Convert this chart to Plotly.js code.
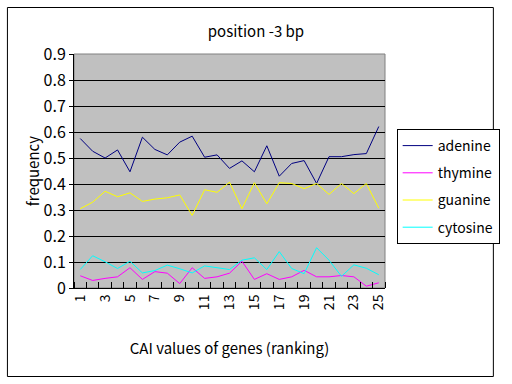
<!DOCTYPE html>
<html>
<head>
<meta charset="utf-8">
<script src="https://cdn.plot.ly/plotly-3.0.1.min.js"></script>
<style>html,body{margin:0;padding:0;background:#fff;}#chart{width:512px;height:384px;}</style>
</head>
<body>
<div id="chart"></div>
<script>
var ranks = [1,2,3,4,5,6,7,8,9,10,11,12,13,14,15,16,17,18,19,20,21,22,23,24,25];
var tickLabels = ["1","3","5","7","9","11","13","15","17","19","21","23","25"];
var tickPositions = [1,3,5,7,9,11,13,15,17,19,21,23,25];
var adenine  = [0.575,0.526,0.500,0.531,0.447,0.580,0.533,0.512,0.561,0.584,0.503,0.512,0.460,0.489,0.447,0.547,0.430,0.479,0.490,0.402,0.505,0.505,0.513,0.517,0.621];
var thymine  = [0.047,0.029,0.037,0.043,0.078,0.033,0.063,0.057,0.017,0.078,0.037,0.043,0.057,0.103,0.033,0.055,0.033,0.043,0.068,0.043,0.043,0.048,0.043,0.007,0.020];
var guanine  = [0.305,0.330,0.372,0.351,0.366,0.333,0.342,0.347,0.358,0.279,0.378,0.368,0.407,0.305,0.405,0.324,0.405,0.402,0.382,0.402,0.360,0.402,0.363,0.402,0.307];
var cytosine = [0.071,0.124,0.101,0.075,0.103,0.058,0.067,0.088,0.074,0.058,0.085,0.078,0.071,0.107,0.116,0.071,0.140,0.075,0.055,0.155,0.107,0.045,0.089,0.076,0.051];

var FONT = "'Noto Sans CJK JP', 'DejaVu Sans', sans-serif";
function tr(name, y, color) {
  return {x: ranks, y: y, name: name, legendgroup: name, type: 'scatter', mode: 'lines',
          line: {color: color, width: 1}};
}
var data = [
  tr('adenine', adenine, '#000080'),
  tr('thymine', thymine, '#ff00ff'),
  tr('guanine', guanine, '#ffff00'),
  tr('cytosine', cytosine, '#00ffff')
];
var layout = {
  width: 512, height: 384,
  margin: {l: 74, r: 118, t: 54, b: 96},
  paper_bgcolor: '#ffffff',
  plot_bgcolor: '#c0c0c0',
  font: {family: FONT, size: 15, color: '#000'},
  title: {text: 'position -3 bp', x: 0.5, xref: 'container', xanchor: 'center',
          y: 1 - 32/384, yref: 'container', yanchor: 'middle',
          font: {family: FONT, size: 15, color: '#000'}},
  showlegend: true,
  legend: {x: (406-74)/320, xanchor: 'left', y: (288-129)/234, yanchor: 'top',
           bgcolor: '#fff', bordercolor: '#000', borderwidth: 1, itemwidth: 30,
           font: {family: FONT, size: 14, color: '#000'}, tracegroupgap: 6},
  xaxis: {
    range: [0.5, 25.5], tickmode: 'array', tickvals: tickPositions, ticktext: tickLabels,
    tickangle: -90, ticks: '', showgrid: false, zeroline: false,
    showline: true, linecolor: '#000', linewidth: 1,
    tickfont: {family: FONT, size: 14, color: '#000'},
    minor: {tickmode: 'linear', tick0: 0.5, dtick: 1, ticks: 'inside', ticklen: 6, tickcolor: '#000', showgrid: false},
    title: {text: 'CAI values of genes (ranking)', standoff: 34, font: {family: FONT, size: 15, color: '#000'}},
    fixedrange: true
  },
  yaxis: {
    range: [0, 0.9], dtick: 0.1, tick0: 0, ticks: 'outside', ticklen: 4, tickcolor: '#000',
    showgrid: true, gridcolor: '#000', gridwidth: 1, zeroline: false,
    showline: true, linecolor: '#000', linewidth: 1,
    tickfont: {family: FONT, size: 16, color: '#000'},
    title: {text: 'frequency', standoff: 0, font: {family: FONT, size: 15, color: '#000'}},
    fixedrange: true
  },
  shapes: [
    {type: 'rect', xref: 'paper', yref: 'paper', x0: 0, x1: 1, y0: 0, y1: 1,
     line: {color: '#808080', width: 1}, layer: 'below'},
    {type: 'rect', xref: 'paper', yref: 'paper', x0: (5.5-74)/320, x1: (505.5-74)/320,
     y0: (288-376.5)/234, y1: (288-7.5)/234, line: {color: '#000', width: 1}}
  ]
};
Plotly.newPlot('chart', data, layout, {staticPlot: true});
</script>
</body>
</html>
